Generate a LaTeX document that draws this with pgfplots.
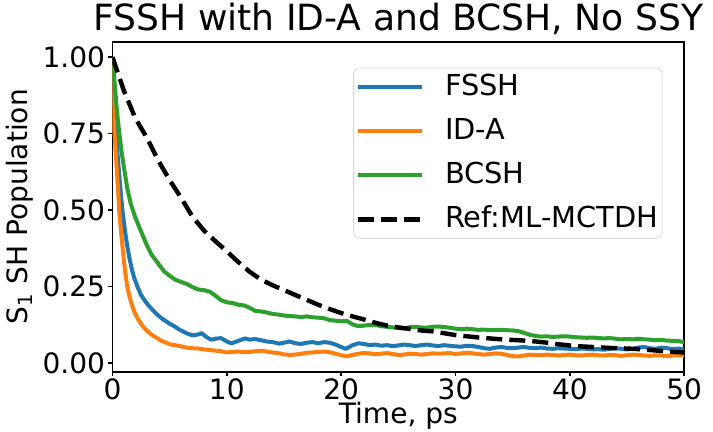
\documentclass[border=0pt]{standalone}
\usepackage{fontspec}
\setmainfont{DejaVu Sans}
\usepackage{pgfplots}
\pgfplotsset{compat=1.18}
\definecolor{tabblue}{HTML}{1F77B4}
\definecolor{taborange}{HTML}{FF7F0E}
\definecolor{tabgreen}{HTML}{2CA02C}
\begin{document}
\begin{tikzpicture}
\begin{axis}[
  scale only axis,
  width=285.25pt, height=164.75pt,
  xmin=0, xmax=50, ymin=-0.03, ymax=1.05,
  xtick={0,10,20,30,40,50},
  ytick={0,0.25,0.5,0.75,1},
  yticklabel style={/pgf/number format/fixed,/pgf/number format/precision=2,/pgf/number format/fixed zerofill, inner xsep=1.5pt},
  xticklabel style={inner ysep=1pt},
  /pgf/number format/assume math mode=true,
  tick align=outside,
  major tick length=2pt,
  tick style={black, line width=0.8pt},
  xtick pos=bottom, ytick pos=left,
  axis line style={line width=0.9pt},
  ticklabel style={font=\fontsize{14}{16}\selectfont},
  title={FSSH with ID-A and BCSH, No SSY},
  title style={font=\fontsize{18}{21}\selectfont, at={(axis description cs:0.5,1)}, anchor=center, yshift=5.5pt, inner xsep=5pt, inner ysep=1.5pt},
  xlabel={Time, ps},
  ylabel={S\textsubscript{1} SH Population},
  label style={font=\fontsize{14}{16}\selectfont},
  xlabel style={at={(axis description cs:0.5,0)}, anchor=center, yshift=-22pt, inner ysep=1pt},
  ylabel style={at={(axis description cs:-0.1613,0.5)}, anchor=center},
  legend style={at={(0.962,0.922)}, anchor=north east, draw=black!15, rounded corners=3pt,
    fill=white, fill opacity=0.8, text opacity=1, font=\fontsize{14.4}{17}\selectfont,
    inner xsep=1pt, inner ysep=1.5pt, row sep=6pt,
    nodes={inner xsep=1pt, inner ysep=1pt, text height=11pt, text depth=3pt}},
  legend cell align=left,
  legend image code/.code={\draw[#1] (0pt,0pt) -- (32pt,0pt); \path (41.5pt,0pt);},
  every axis plot/.append style={line width=2pt, line join=round},
]
\addplot[tabblue] coordinates {
(0,1.000)(0.1,0.92)(0.2,0.84)(0.3,0.76)(0.45,0.68)(0.6,0.61)(0.75,0.545)(0.9,0.49)(1.1,0.43)(1.3,0.38)(1.5,0.34)(1.7,0.305)(1.9,0.278)(2.2,0.248)(2.5,0.222)(2.8,0.205)(3.1,0.19)(3.4,0.178)(3.7,0.166)(4.0,0.155)(4.3,0.146)(4.6,0.138)(5.0,0.128)(5.4,0.12)(5.8,0.11)(6.2,0.102)(6.6,0.095)(7.0,0.09)(7.5,0.093)(7.8,0.097)(8.2,0.085)(8.6,0.076)(9.0,0.079)(9.5,0.081)(10.0,0.07)(10.4,0.064)(11.0,0.072)(11.6,0.08)(12.0,0.076)(12.5,0.078)(13.0,0.074)(13.5,0.07)(14.0,0.068)(14.6,0.063)(15.0,0.066)(15.5,0.070)(16.0,0.064)(16.5,0.062)(17.0,0.066)(17.5,0.068)(18.0,0.064)(18.5,0.068)(19.0,0.066)(19.5,0.060)(20.0,0.052)(20.4,0.046)(21.0,0.058)(21.5,0.064)(22.0,0.062)(22.5,0.058)(23.0,0.060)(23.5,0.056)(24.0,0.058)(24.5,0.055)(25.0,0.057)(25.5,0.060)(26.0,0.058)(26.5,0.055)(27.0,0.058)(27.5,0.060)(28.0,0.057)(28.5,0.055)(29.0,0.058)(29.5,0.056)(30.0,0.054)(30.5,0.053)(31.0,0.056)(31.5,0.055)(32.0,0.052)(32.5,0.048)(33.0,0.046)(33.5,0.050)(34.0,0.052)(34.5,0.049)(35.0,0.048)(35.5,0.050)(36.0,0.052)(36.5,0.049)(37.0,0.048)(37.5,0.050)(38.0,0.047)(38.5,0.046)(39.0,0.048)(39.5,0.047)(40.0,0.046)(40.5,0.045)(41.0,0.047)(41.5,0.046)(42.0,0.044)(42.5,0.045)(43.0,0.043)(43.5,0.046)(44.0,0.048)(44.5,0.046)(45.0,0.044)(45.5,0.046)(46.0,0.050)(46.5,0.052)(47.0,0.048)(47.5,0.046)(48.0,0.050)(48.5,0.048)(49.0,0.045)(49.5,0.047)(50.0,0.044)
};
\addlegendentry{FSSH}
\addplot[taborange] coordinates {
(0,1.0)(0.05,0.87)(0.1,0.80)(0.2,0.74)(0.3,0.68)(0.4,0.62)(0.5,0.56)(0.6,0.49)(0.75,0.43)(0.9,0.37)(1.1,0.30)(1.3,0.248)(1.5,0.215)(1.7,0.19)(1.9,0.168)(2.2,0.145)(2.5,0.128)(2.8,0.113)(3.1,0.102)(3.5,0.090)(3.9,0.081)(4.3,0.072)(4.7,0.066)(5.1,0.060)(5.5,0.058)(6.0,0.054)(6.5,0.050)(7.0,0.048)(7.5,0.047)(8.0,0.044)(8.5,0.042)(9.0,0.040)(9.5,0.038)(10.0,0.034)(10.5,0.036)(11.0,0.037)(11.5,0.035)(12.0,0.036)(12.5,0.038)(13.0,0.040)(13.5,0.037)(14.0,0.034)(14.5,0.032)(15.0,0.028)(15.5,0.026)(16.0,0.027)(16.5,0.030)(17.0,0.033)(17.5,0.034)(18.0,0.036)(18.5,0.037)(19.0,0.035)(19.5,0.030)(20.0,0.025)(20.5,0.022)(21.0,0.026)(21.5,0.030)(22.0,0.032)(22.5,0.031)(23.0,0.028)(23.5,0.030)(24.0,0.032)(24.5,0.029)(25.0,0.026)(25.5,0.027)(26.0,0.030)(26.5,0.029)(27.0,0.027)(27.5,0.029)(28.0,0.031)(28.5,0.030)(29.0,0.031)(29.5,0.032)(30.0,0.029)(30.5,0.031)(31.0,0.033)(31.5,0.031)(32.0,0.029)(32.5,0.027)(33.0,0.029)(33.5,0.031)(34.0,0.030)(34.5,0.026)(35.0,0.022)(35.5,0.021)(36.0,0.024)(36.5,0.027)(37.0,0.026)(37.5,0.025)(38.0,0.027)(38.5,0.026)(39.0,0.024)(39.5,0.026)(40.0,0.027)(40.5,0.025)(41.0,0.024)(41.5,0.026)(42.0,0.027)(42.5,0.025)(43.0,0.024)(43.5,0.026)(44.0,0.025)(44.5,0.023)(45.0,0.025)(45.5,0.027)(46.0,0.026)(46.5,0.024)(47.0,0.023)(47.5,0.025)(48.0,0.024)(48.5,0.022)(49.0,0.024)(49.5,0.025)(50.0,0.024)
};
\addlegendentry{ID-A}
\addplot[tabgreen] coordinates {
(0,1.000)(0.2,0.91)(0.4,0.82)(0.6,0.75)(0.8,0.69)(1.0,0.64)(1.3,0.57)(1.6,0.52)(2.0,0.475)(2.5,0.43)(3.0,0.385)(3.4,0.355)(4.0,0.325)(4.5,0.30)(5.0,0.285)(5.5,0.272)(6.0,0.265)(6.5,0.258)(7.0,0.248)(7.5,0.24)(8.0,0.238)(8.5,0.233)(9.0,0.22)(9.5,0.205)(10.0,0.198)(10.5,0.196)(11.0,0.19)(11.5,0.188)(12.0,0.18)(12.5,0.17)(13,0.168)(13.5,0.165)(14,0.16)(14.5,0.158)(15,0.155)(15.5,0.153)(16,0.152)(16.5,0.150)(17,0.152)(17.5,0.149)(18,0.148)(18.5,0.146)(19,0.140)(19.5,0.138)(20,0.136)(20.5,0.137)(21,0.126)(21.5,0.12)(22,0.122)(22.5,0.124)(23,0.124)(23.5,0.12)(24,0.118)(24.5,0.116)(25,0.114)(25.5,0.113)(26,0.117)(26.5,0.118)(27,0.116)(27.5,0.115)(28,0.118)(28.5,0.119)(29,0.117)(29.5,0.115)(30,0.112)(30.5,0.110)(31,0.112)(31.5,0.110)(32,0.108)(32.5,0.109)(33,0.107)(33.5,0.108)(34,0.108)(34.5,0.107)(35,0.106)(35.5,0.104)(36,0.098)(36.5,0.092)(37,0.088)(37.5,0.086)(38,0.087)(38.5,0.085)(39,0.086)(39.5,0.087)(40,0.086)(40.5,0.084)(41,0.083)(41.5,0.082)(42,0.083)(42.5,0.081)(43,0.08)(43.5,0.081)(44,0.079)(44.5,0.077)(45,0.078)(45.5,0.077)(46,0.079)(46.5,0.077)(47,0.076)(47.5,0.074)(48,0.075)(48.5,0.073)(49,0.072)(49.5,0.071)(50,0.068)
};
\addlegendentry{BCSH}
\addplot[black, line width=2.2pt, dash pattern=on 8pt off 3.5pt] coordinates {
(0,1.000)(1,0.89)(2,0.80)(3,0.737)(4,0.662)(5,0.598)(6,0.540)(7,0.478)(8,0.433)(9,0.398)(10,0.365)(11,0.330)(12,0.298)(13,0.272)(14,0.254)(15,0.238)(16,0.222)(17,0.206)(18,0.190)(19,0.176)(20,0.163)(21,0.152)(22,0.142)(23,0.131)(24,0.122)(25,0.116)(26,0.111)(27,0.106)(28,0.103)(29,0.097)(30,0.091)(31,0.087)(32,0.083)(33,0.080)(34,0.077)(35,0.075)(36,0.073)(37,0.070)(38,0.066)(39,0.061)(40,0.057)(41,0.054)(42,0.052)(43,0.050)(44,0.048)(45,0.047)(46,0.045)(47,0.042)(48,0.039)(49,0.036)(50,0.034)
};
\addlegendentry{Ref:ML-MCTDH}
\end{axis}
\end{tikzpicture}
\end{document}
